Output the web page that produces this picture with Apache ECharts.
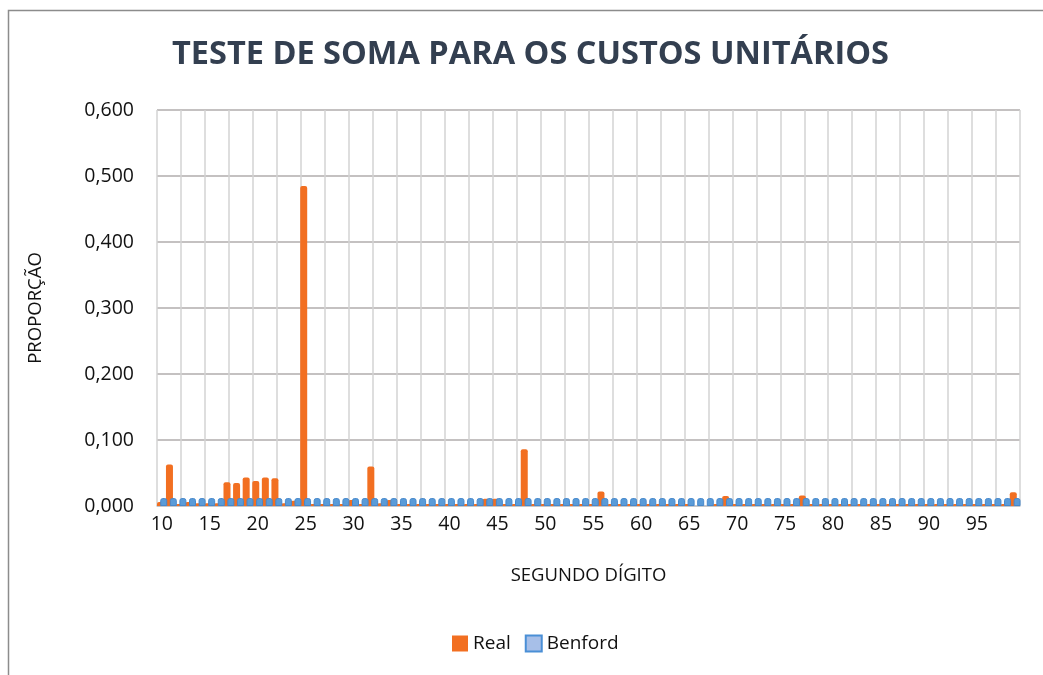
<!DOCTYPE html>
<html>
<head>
<meta charset="utf-8">
<script src="https://cdn.jsdelivr.net/npm/echarts@6/dist/echarts.min.js"></script>
<style>
  html, body { margin: 0; padding: 0; background: #fff; }
  #chart { width: 1043px; height: 675px; }
</style>
</head>
<body>
<div id="chart"></div>
<script>
'use strict';
// segundo dígito: 10 .. 99
var categories = [];
for (var d = 10; d <= 99; d++) categories.push(String(d));

// proporção real
var realValues = [
  0.006, 0.063, 0.003, 0.006, 0.004, 0.004, 0.004, 0.036, 0.035, 0.043, // 10-19
  0.038, 0.043, 0.042, 0.004, 0.008, 0.485, 0.003, 0.003, 0.003, 0.003, // 20-29
  0.009, 0.003, 0.060, 0.004, 0.009, 0.003, 0.003, 0.003, 0.003, 0.003, // 30-39
  0.003, 0.003, 0.003, 0.003, 0.011, 0.011, 0.003, 0.003, 0.086, 0.003, // 40-49
  0.003, 0.003, 0.003, 0.003, 0.003, 0.003, 0.022, 0.003, 0.003, 0.003, // 50-59
  0.003, 0.003, 0.003, 0.003, 0.003, 0.003, 0.000, 0.000, 0.003, 0.015, // 60-69
  0.003, 0.003, 0.003, 0.003, 0.003, 0.003, 0.003, 0.016, 0.003, 0.003, // 70-79
  0.003, 0.003, 0.003, 0.003, 0.003, 0.003, 0.003, 0.003, 0.003, 0.003, // 80-89
  0.003, 0.003, 0.003, 0.003, 0.003, 0.003, 0.003, 0.003, 0.003, 0.021  // 90-99
];

// proporção esperada (Benford)
var benfordValues = [
  0.012, 0.012, 0.012, 0.012, 0.012, 0.012, 0.012, 0.012, 0.012, 0.012,
  0.012, 0.012, 0.012, 0.012, 0.012, 0.012, 0.012, 0.012, 0.012, 0.012,
  0.012, 0.012, 0.012, 0.012, 0.012, 0.012, 0.012, 0.012, 0.012, 0.012,
  0.012, 0.012, 0.012, 0.012, 0.012, 0.012, 0.012, 0.012, 0.012, 0.012,
  0.012, 0.012, 0.012, 0.012, 0.012, 0.012, 0.012, 0.012, 0.012, 0.012,
  0.012, 0.012, 0.012, 0.012, 0.012, 0.012, 0.012, 0.012, 0.012, 0.012,
  0.012, 0.012, 0.012, 0.012, 0.012, 0.012, 0.012, 0.012, 0.012, 0.012,
  0.012, 0.012, 0.012, 0.012, 0.012, 0.012, 0.012, 0.012, 0.012, 0.012,
  0.012, 0.012, 0.012, 0.012, 0.012, 0.012, 0.012, 0.012, 0.012, 0.012
];

var yTicks = [0, 0.1, 0.2, 0.3, 0.4, 0.5, 0.6];

var FONT = '"Open Sans", "Liberation Sans", sans-serif';

function init() {
    const el = document.getElementById('chart');
    const chart = echarts.init(el, null, { renderer: 'canvas' });
    const option = {
        animation: false,
        textStyle: { fontFamily: FONT },
        title: {
            text: 'TESTE DE SOMA PARA OS CUSTOS UNITÁRIOS',
            left: 167,
            top: 33,
            textStyle: {
                fontFamily: FONT,
                fontSize: 32.5,
                fontWeight: 'bold',
                color: '#333f50'
            }
        },
        legend: {
            bottom: 17,
            left: 447,
            itemWidth: 16,
            itemHeight: 16,
            itemGap: 14,
            textStyle: { fontSize: 19, color: '#111', fontFamily: FONT },
            data: [
                { name: 'Real', icon: 'rect' },
                {
                    name: 'Benford',
                    icon: 'rect',
                    itemStyle: { color: '#a7bfe8', borderColor: '#4a8fd6', borderWidth: 2 }
                }
            ]
        },
        graphic: [
            {
                type: 'rect',
                shape: { x: 8.5, y: 10.5, width: 1100, height: 700 },
                style: { fill: null, stroke: '#8c8c8c', lineWidth: 1.5 },
                silent: true
            }
        ],
        grid: {
            left: 157,
            right: 23,
            top: 110,
            bottom: 169
        },
        xAxis: [
            {
                type: 'category',
                data: categories,
                name: 'SEGUNDO DÍGITO',
                nameLocation: 'middle',
                nameGap: 60,
                nameTextStyle: { fontSize: 18.5, color: '#111', fontFamily: FONT },
                axisLine: { show: true, lineStyle: { color: '#c3c9cf', width: 1.5 } },
                axisTick: { show: false },
                axisLabel: {
                    interval: 4,
                    margin: 8,
                    fontSize: 19.5,
                    color: '#111',
                    fontFamily: FONT
                },
                splitLine: { show: false }
            },
            {
                // grade vertical do Excel (a cada 2,5 categorias)
                type: 'value',
                min: 0,
                max: categories.length,
                interval: 2.5,
                position: 'bottom',
                axisLine: { show: false },
                axisTick: { show: false },
                axisLabel: { show: false },
                splitLine: { show: true, lineStyle: { color: '#d3d3d3', width: 1.5 } }
            }
        ],
        yAxis: {
            type: 'value',
            min: yTicks[0],
            max: yTicks[yTicks.length - 1],
            interval: 0.1,
            name: 'PROPORÇÃO',
            nameLocation: 'middle',
            nameGap: 112,
            nameRotate: 90,
            nameTextStyle: { fontSize: 18.5, color: '#111', fontFamily: FONT },
            axisLine: { show: false },
            axisTick: { show: false },
            axisLabel: {
                margin: 23,
                fontSize: 19.5,
                color: '#111',
                fontFamily: FONT,
                formatter: function (v) { return v.toFixed(3).replace('.', ','); }
            },
            splitLine: { show: true, lineStyle: { color: '#b0acac', width: 1.5 } }
        },
        series: [
            {
                name: 'Real',
                type: 'bar',
                xAxisIndex: 0,
                data: realValues,
                barWidth: 7,
                barGap: '-45%',
                itemStyle: { color: '#f26f21', borderRadius: [2, 2, 0, 0] }
            },
            {
                name: 'Benford',
                type: 'bar',
                xAxisIndex: 0,
                data: benfordValues,
                barWidth: 7,
                barGap: '-45%',
                itemStyle: {
                    color: '#5a9bd8',
                    borderColor: '#4688cc',
                    borderWidth: 1,
                    borderRadius: [2, 2, 0, 0]
                }
            }
        ]
    };
    chart.setOption(option);
}

(function () {
    init();
})();
</script>
</body>
</html>
